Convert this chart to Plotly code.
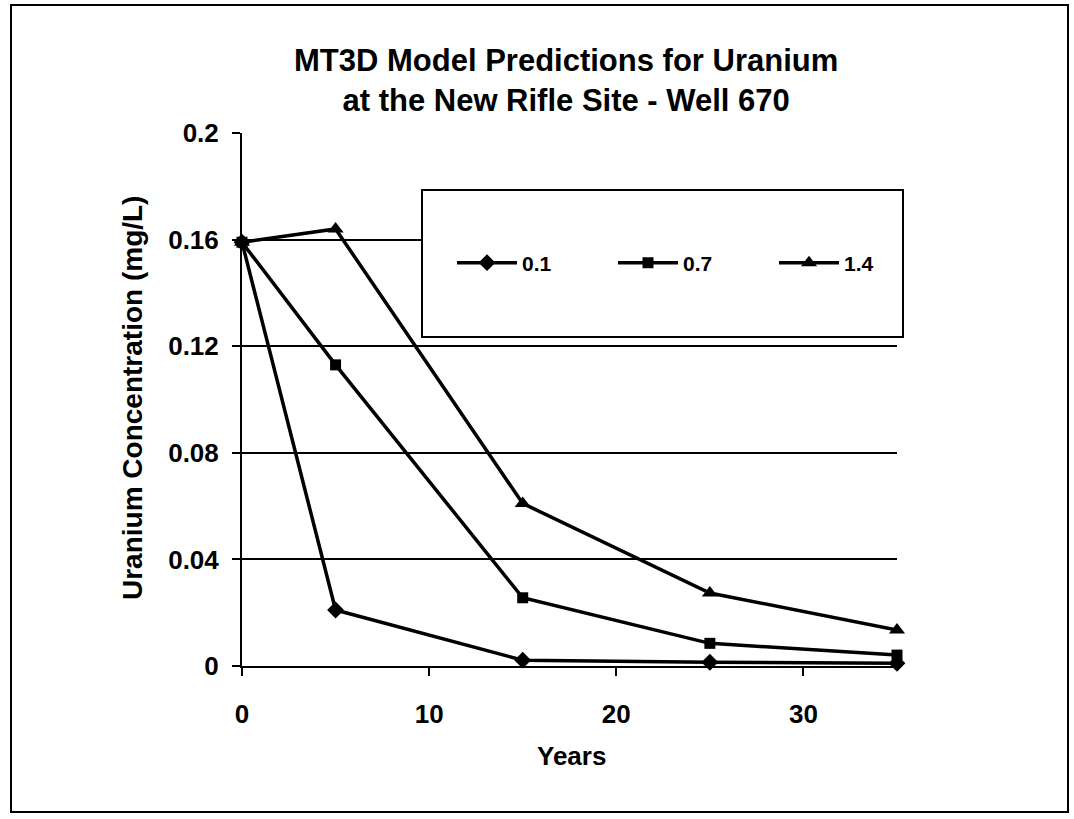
import plotly.graph_objects as go

# Uranium concentration (mg/L) predicted by MT3D at Well 670
years = [0, 5, 15, 25, 35]
series_names = ["0.1", "0.7", "1.4"]
conc_01 = [0.159, 0.021, 0.0022, 0.0014, 0.0010]
conc_07 = [0.159, 0.113, 0.0256, 0.0085, 0.0041]
conc_14 = [0.159, 0.164, 0.061, 0.0274, 0.0135]
y_ticks = [0, 0.04, 0.08, 0.12, 0.16, 0.2]
y_tick_labels = ["0", "0.04", "0.08", "0.12", "0.16", "0.2"]
x_ticks = [0, 10, 20, 30]

W, H = 1074, 819
L, R, T, B = 242, 897, 133, 666  # plot area edges in pixels


def px(x):
    return (x - L) / (R - L)


def py(y):
    return (B - y) / (B - T)


FONT = "Liberation Sans, Arial, sans-serif"

fig = go.Figure()
symbols = ["diamond", "square", "triangle-up"]
sizes = [13, 11, 14]
for name, vals, sym, sz in zip(series_names, [conc_01, conc_07, conc_14], symbols, sizes):
    fig.add_trace(go.Scatter(
        x=years, y=vals, name=name, mode="lines+markers",
        line=dict(color="black", width=3.5),
        marker=dict(symbol=sym, size=sz, color="black"),
        cliponaxis=False,
    ))

fig.update_layout(
    width=W, height=H,
    margin=dict(l=L, r=W - R, t=T, b=H - B, pad=0),
    paper_bgcolor="white", plot_bgcolor="white",
    font=dict(family=FONT, color="black"),
    showlegend=True,
    legend=dict(
        orientation="h", x=px(452), y=py(263), xanchor="left", yanchor="middle",
        bgcolor="rgba(0,0,0,0)", borderwidth=0,
        font=dict(family=FONT, size=21, color="black", weight="bold"),
        itemwidth=60,
        entrywidth=86, entrywidthmode="pixels",
    ),
    xaxis=dict(
        range=[0, 35], tickvals=x_ticks, ticktext=[str(v) for v in x_ticks],
        showgrid=False, zeroline=False,
        showline=True, linecolor="black", linewidth=2,
        ticks="outside", ticklen=8, tickwidth=2, tickcolor="black",
        tickfont=dict(family=FONT, size=26, weight="bold"),
        ticklabelstandoff=16,
    ),
    yaxis=dict(
        range=[0, 0.2], tickvals=y_ticks, ticktext=y_tick_labels,
        showgrid=True, gridcolor="black", gridwidth=2, zeroline=False,
        showline=True, linecolor="black", linewidth=2,
        ticks="outside", ticklen=8, tickwidth=2, tickcolor="black",
        tickfont=dict(family=FONT, size=26, weight="bold"),
        ticklabelstandoff=8,
    ),
    shapes=[
        # outer frame
        dict(type="rect", xref="paper", yref="paper",
             x0=px(11), x1=px(1068), y0=py(5), y1=py(812),
             line=dict(color="black", width=2), layer="below"),
        # legend box
        dict(type="rect", xref="paper", yref="paper",
             x0=px(422), x1=px(903), y0=py(190), y1=py(337),
             line=dict(color="black", width=2), fillcolor="white", layer="above"),
    ],
    annotations=[
        dict(text="<b>MT3D Model Predictions for Uranium<br>at the New Rifle Site - Well 670</b>",
             xref="paper", yref="paper", x=px(566), y=py(81),
             xanchor="center", yanchor="middle", showarrow=False,
             font=dict(family=FONT, size=31)),
        dict(text="<b>Uranium Concentration (mg/L)</b>", textangle=-90,
             xref="paper", yref="paper", x=px(132), y=py(398),
             xanchor="center", yanchor="middle", showarrow=False,
             font=dict(family=FONT, size=28)),
        dict(text="<b>Years</b>",
             xref="paper", yref="paper", x=px(571), y=py(756),
             xanchor="center", yanchor="middle", showarrow=False,
             font=dict(family=FONT, size=26)),
    ],
)

fig.write_html("out.html")
